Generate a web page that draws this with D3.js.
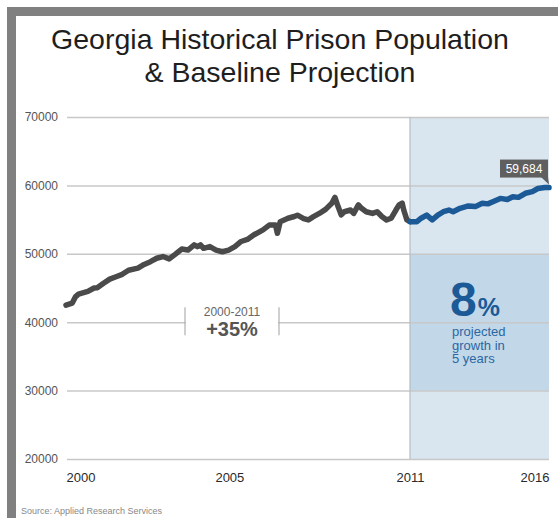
<!DOCTYPE html>
<html>
<head>
<meta charset="utf-8">
<script src="https://cdn.jsdelivr.net/npm/d3@7"></script>
<style>
  body { margin: 0; background: #fff; }
  text { font-family: "Liberation Sans", Arial, sans-serif; }
</style>
</head>
<body>
<script>
// Georgia prison population, historical + baseline projection
var W = 558, H = 518;

// data (decimal years)
var histYears = [2000.0, 2000.2, 2000.3, 2000.4, 2000.7, 2000.9, 2001.0, 2001.2, 2001.4, 2001.6, 2001.8,
  2002.0, 2002.3, 2002.5, 2002.7, 2002.9, 2003.1, 2003.3, 2003.5, 2003.7, 2003.9,
  2004.1, 2004.2, 2004.3, 2004.4, 2004.6, 2004.8, 2005.0, 2005.2, 2005.4, 2005.6, 2005.8,
  2006.0, 2006.3, 2006.5, 2006.7, 2006.76, 2006.85, 2007.1, 2007.3, 2007.4, 2007.6, 2007.75, 2007.9,
  2008.1, 2008.3, 2008.5, 2008.6, 2008.7, 2008.8, 2008.9, 2009.1, 2009.2, 2009.35, 2009.45, 2009.6, 2009.8, 2009.95,
  2010.1, 2010.25, 2010.4, 2010.55, 2010.65, 2010.75, 2010.8, 2010.9, 2011.0];
var histValues = [42500, 42800, 43700, 44100, 44500, 45000, 45050, 45700, 46300, 46650, 47000,
  47600, 47900, 48450, 48850, 49350, 49600, 49250, 49950, 50700, 50550,
  51300, 51050, 51300, 50800, 51050, 50550, 50300, 50550, 51050, 51800, 52100,
  52750, 53500, 54200, 54200, 53000, 54700, 55200, 55450, 55650, 55150, 54950, 55400,
  55900, 56500, 57400, 58250, 56900, 55700, 56150, 56400, 55900, 57150, 56650, 56150, 55900, 56150,
  55450, 54950, 55200, 56400, 57150, 57400, 56400, 54950, 54700];

var projYears = [2011.0, 2011.25, 2011.4, 2011.6, 2011.8, 2012.0, 2012.2, 2012.4, 2012.55, 2012.8,
  2013.1, 2013.35, 2013.6, 2013.8, 2014.0, 2014.25, 2014.5, 2014.7, 2014.9,
  2015.15, 2015.4, 2015.6, 2015.85, 2016.0];
var projValues = [54700, 54700, 55200, 55650, 54950, 55650, 56150, 56400, 56150, 56650,
  57000, 56900, 57400, 57300, 57650, 58100, 57950, 58350, 58250,
  58850, 59100, 59550, 59700, 59684];

var yTicks = [20000, 30000, 40000, 50000, 60000, 70000];
var xTicks = [2000, 2005, 2011, 2016];
var titleLines = ['Georgia Historical Prison Population', '& Baseline Projection'];

var svg = d3.select('body').append('svg')
  .attr('width', W)
  .attr('height', H);

// frame
svg.append('rect').attr('x', 7).attr('y', 7).attr('width', 9).attr('height', H - 7).attr('fill', '#808080');
svg.append('rect').attr('x', 7).attr('y', 7).attr('width', W - 7).attr('height', 9).attr('fill', '#808080');

// title
svg.append('text')
  .attr('x', 280).attr('y', 49)
  .attr('text-anchor', 'middle')
  .attr('font-size', 28.5)
  .attr('font-family', 'Lato, "Liberation Sans", Arial, sans-serif')
  .attr('font-weight', 300)
  .attr('fill', '#1e1e1e')
  .selectAll('tspan').data(titleLines).enter().append('tspan')
  .attr('x', 280)
  .attr('dy', function(d, i) { return i ? 33 : 0; })
  .text(function(d) { return d; });

var x = d3.scaleLinear().domain([2000, 2011, 2016]).range([66, 410, 549]);
var y = d3.scaleLinear().domain([20000, 70000]).range([459, 117]);

// projection shading
svg.append('rect')
  .attr('x', x(2011)).attr('y', y(70000))
  .attr('width', x(2016) - x(2011)).attr('height', y(20000) - y(70000))
  .attr('fill', '#d9e5ef');
svg.append('rect')
  .attr('x', x(2011)).attr('y', y(50000))
  .attr('width', x(2016) - x(2011)).attr('height', y(30000) - y(50000))
  .attr('fill', '#c2d7e8');

// y axis + gridlines
var yAxis = svg.append('g')
  .attr('transform', 'translate(' + (x(2000) + 1) + ',0)')
  .call(d3.axisLeft(y).tickValues(yTicks).tickFormat(d3.format('d'))
    .tickSize(-(x(2016) - x(2000) - 1)).tickPadding(9));
yAxis.select('.domain').remove();
yAxis.selectAll('line').attr('stroke', '#c8c8c8').attr('stroke-width', 1.5);
yAxis.selectAll('text').attr('font-size', 12).attr('fill', '#555')
  .attr('font-family', '"Liberation Sans", Arial, sans-serif');

// divider at 2011
svg.append('line')
  .attr('x1', x(2011)).attr('x2', x(2011))
  .attr('y1', y(70000)).attr('y2', y(20000))
  .attr('stroke', '#b4bcc4').attr('stroke-width', 1.2);

// x axis labels
var xAxis = svg.append('g')
  .attr('transform', 'translate(0,' + y(20000) + ')')
  .call(d3.axisBottom(x).tickValues(xTicks).tickFormat(d3.format('d')).tickSize(0).tickPadding(14));
xAxis.select('.domain').remove();
xAxis.selectAll('text')
  .attr('font-size', 13).attr('fill', '#2a2a2a')
  .attr('font-family', '"Liberation Sans", Arial, sans-serif')
  .attr('text-anchor', function(d) { return d === 2000 ? 'start' : d === 2016 ? 'end' : 'middle'; })
  .attr('dx', function(d) { return d === 2005 ? 7 : 0; });

// 2000-2011 annotation on the 40000 gridline
var ay = y(40000);
svg.append('rect').attr('x', 186).attr('y', ay - 2).attr('width', 92).attr('height', 4).attr('fill', '#fff');
svg.selectAll('.brk').data([185, 279]).enter().append('line')
  .attr('class', 'brk')
  .attr('x1', function(d) { return d; }).attr('x2', function(d) { return d; })
  .attr('y1', ay - 15).attr('y2', ay + 13)
  .attr('stroke', '#b0b0b0').attr('stroke-width', 1.2);
svg.append('text').attr('x', 232).attr('y', ay - 6)
  .attr('text-anchor', 'middle').attr('font-size', 12).attr('fill', '#666')
  .text('2000-2011');
svg.append('text').attr('x', 232).attr('y', ay + 14)
  .attr('text-anchor', 'middle').attr('font-size', 20).attr('font-weight', 'bold').attr('fill', '#555')
  .text('+35%');

// 8% projected growth
var blue = '#1b5a96';
var pct = svg.append('text').attr('x', 450).attr('y', 316).attr('fill', blue).attr('font-weight', 'bold');
pct.append('tspan').attr('font-size', 48).text('8');
pct.append('tspan').attr('font-size', 25).attr('dx', 1).text('%');
svg.selectAll('.pg').data(['projected', 'growth in', '5 years']).enter().append('text')
  .attr('class', 'pg')
  .attr('x', 452)
  .attr('y', function(d, i) { return 336 + i * 13.5; })
  .attr('font-size', 13).attr('fill', '#2b67a3')
  .text(function(d) { return d; });

// lines
var line = d3.line()
  .x(function(d) { return x(d[0]); })
  .y(function(d) { return y(d[1]); })
  .curve(d3.curveLinear);

var hist = d3.zip(histYears, histValues);
var proj = d3.zip(projYears, projValues);

svg.append('path').datum(hist)
  .attr('d', line)
  .attr('fill', 'none').attr('stroke', '#4a4a4a').attr('stroke-width', 5.5)
  .attr('stroke-linejoin', 'round').attr('stroke-linecap', 'round');
svg.append('path').datum(proj)
  .attr('d', line)
  .attr('fill', 'none').attr('stroke', blue).attr('stroke-width', 5.5)
  .attr('stroke-linejoin', 'round').attr('stroke-linecap', 'round');

// end value callout
var last = proj[proj.length - 1];
var ex = x(last[0]), ey = y(last[1]);
var callout = svg.append('g').attr('transform', 'translate(' + ex + ',' + ey + ')');
callout.append('rect').attr('x', -49).attr('y', -28).attr('width', 48).attr('height', 18).attr('fill', '#5f5f5f');
callout.append('path').attr('d', 'M-8,-10.5 L-1,-10.5 L0,-3 Z').attr('fill', '#5f5f5f');
callout.append('text').attr('x', -25).attr('y', -14.5)
  .attr('text-anchor', 'middle').attr('font-size', 12).attr('fill', '#fff')
  .text(d3.format(',')(last[1]));

// source
svg.append('text').attr('x', 21).attr('y', 514)
  .attr('font-size', 9).attr('fill', '#888')
  .text('Source: Applied Research Services');
</script>
</body>
</html>
